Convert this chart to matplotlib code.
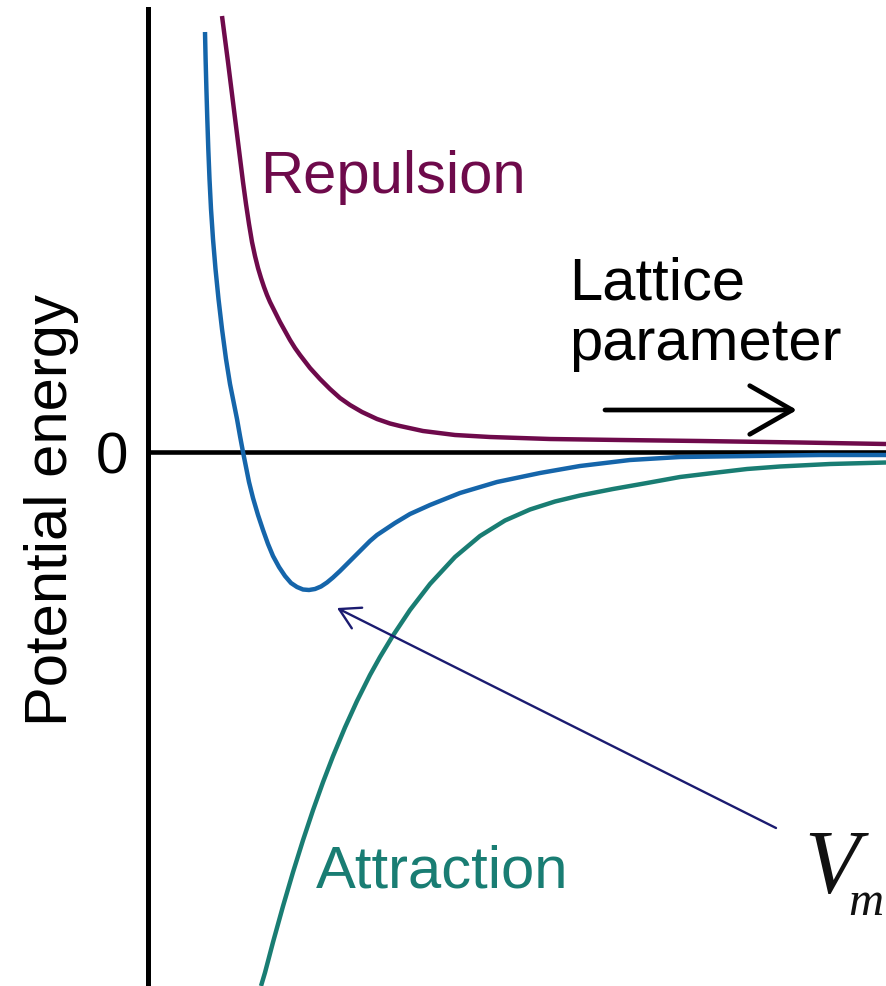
import matplotlib
matplotlib.use("Agg")
import matplotlib.pyplot as plt

plt.rcParams['font.family'] = ['Liberation Sans', 'DejaVu Sans']

# ---- data (lattice parameter, potential energy; arbitrary units) ----
repulsion_x = [0.74, 0.77, 0.80, 0.83, 0.86, 0.89, 0.92, 0.95, 0.98, 1.01, 1.04, 1.07, 1.10,
               1.13, 1.16, 1.19, 1.22, 1.27, 1.32, 1.37, 1.42, 1.47, 1.52, 1.62, 1.72, 1.82,
               1.92, 2.02, 2.14, 2.29, 2.42, 2.52, 2.75, 3.07, 3.42, 4.02, 4.72, 5.52, 6.52, 7.38]
repulsion_y = [4.36, 4.13, 3.90, 3.66, 3.42, 3.18, 2.94, 2.70, 2.48, 2.28, 2.10, 1.96, 1.84,
               1.74, 1.65, 1.57, 1.50, 1.40, 1.30, 1.21, 1.12, 1.04, 0.97, 0.84, 0.73, 0.63,
               0.54, 0.47, 0.40, 0.33, 0.285, 0.26, 0.21, 0.17, 0.15, 0.13, 0.12, 0.11, 0.095, 0.08]

total_x = [0.570, 0.576, 0.584, 0.593, 0.603, 0.615, 0.63, 0.65, 0.675, 0.705, 0.74, 0.78,
           0.82, 0.85, 0.89, 0.92, 0.95, 0.98, 1.01, 1.05, 1.10, 1.15, 1.20, 1.25, 1.31, 1.37,
           1.43, 1.49, 1.55, 1.61, 1.67, 1.73, 1.79, 1.85, 1.92, 1.99, 2.07, 2.15, 2.22, 2.29,
           2.38, 2.47, 2.62, 2.82, 3.12, 3.49, 3.92, 4.32, 4.82, 5.32, 6.02, 6.72, 7.38]
total_y = [4.20, 3.93, 3.63, 3.33, 3.03, 2.73, 2.43, 2.13, 1.83, 1.53, 1.23, 0.93,
           0.68, 0.53, 0.33, 0.16, 0.00, -0.15, -0.30, -0.46, -0.63, -0.78, -0.92, -1.04, -1.15,
           -1.24, -1.31, -1.35, -1.375, -1.38, -1.37, -1.345, -1.305, -1.255, -1.19, -1.12,
           -1.04, -0.96, -0.89, -0.83, -0.77, -0.71, -0.62, -0.53, -0.41, -0.30, -0.21, -0.14,
           -0.08, -0.05, -0.04, -0.03, -0.03]

attraction_x = [1.13, 1.17, 1.25, 1.35, 1.45, 1.55, 1.65, 1.75, 1.85, 1.97, 2.09, 2.22, 2.32,
                2.45, 2.62, 2.82, 3.07, 3.32, 3.57, 3.82, 4.07, 4.32, 4.65, 4.99, 5.32, 5.65,
                5.99, 6.32, 6.82, 7.38]
attraction_y = [-5.34, -5.206, -4.902, -4.542, -4.202, -3.882, -3.582, -3.302, -3.042, -2.754,
                -2.49, -2.23, -2.05, -1.835, -1.58, -1.32, -1.05, -0.84, -0.685, -0.575, -0.495,
                -0.435, -0.37, -0.31, -0.25, -0.21, -0.17, -0.145, -0.12, -0.105]

y_tick_values = [0]
y_tick_labels = ['0']
vm_point = (1.89, -1.56)       # point the V_m arrow indicates (just below the minimum)

# ---- styling ----
C_REP = '#6E0A4B'
C_TOT = '#1565AA'
C_ATT = '#197D73'
C_NAVY = '#1B1B70'

fig = plt.figure(figsize=(8.86, 9.87), dpi=100)
ax = fig.add_axes([0, 0, 1, 1])
ax.set_xlim(-1.48, 7.38)
ax.set_ylim(-5.34, 4.53)

kw = dict(lw=3.2, solid_capstyle='butt', solid_joinstyle='round')
ax.plot(repulsion_x, repulsion_y, color=C_REP, zorder=3, **kw)
ax.plot(attraction_x, attraction_y, color=C_ATT, zorder=3, **kw)
ax.plot(total_x, total_y, color=C_TOT, zorder=4, **kw)

# axes lines
for s in ['top', 'right']:
    ax.spines[s].set_visible(False)
ax.spines['left'].set_position(('data', 0))
ax.spines['bottom'].set_position(('data', 0))
ax.spines['left'].set_bounds(-5.34, 4.43)
ax.spines['bottom'].set_bounds(0, 7.38)
ax.spines['left'].set_linewidth(3.6)
ax.spines['bottom'].set_linewidth(3.3)
ax.spines['left'].set_zorder(2)
ax.spines['bottom'].set_zorder(2)
ax.patch.set_visible(False)

ax.set_xticks([])
ax.set_yticks(y_tick_values)
ax.set_yticklabels(y_tick_labels)
ax.tick_params(axis='y', length=0, pad=14, labelsize=42)

ax.text(52 / 886, 1 - 510 / 987, 'Potential energy', transform=ax.transAxes,
        rotation=90, ha='center', va='center', fontsize=43)

# labels
ax.text(1.12, 2.60, 'Repulsion', color=C_REP, fontsize=43, ha='left', va='baseline')
ax.text(1.68, -4.34, 'Attraction', color=C_ATT, fontsize=43, ha='left', va='baseline')
ax.text(4.21, 1.53, 'Lattice', color='black', fontsize=43, ha='left', va='baseline')
ax.text(4.21, 0.93, 'parameter', color='black', fontsize=43, ha='left', va='baseline')

# lattice parameter arrow
ax.annotate('', xy=(6.49, 0.42), xytext=(4.57, 0.42),
            arrowprops=dict(arrowstyle='->,head_length=30.6,head_width=17.5',
                            mutation_scale=1, lw=3.4, color='black',
                            shrinkA=0, shrinkB=0))

# V_m arrow
ax.annotate('', xy=vm_point, xytext=(6.28, -3.76),
            arrowprops=dict(arrowstyle='->,head_length=14.4,head_width=8.3',
                            mutation_scale=1, lw=1.7, color=C_NAVY,
                            shrinkA=0, shrinkB=0))

ax.text(6.56, -4.40, 'V', fontsize=65, family='Liberation Serif', style='italic',
        color='#111111', ha='left', va='baseline')
ax.text(7.0, -4.62, 'm', fontsize=35, family='Liberation Serif', style='italic',
        color='#111111', ha='left', va='baseline')

fig.savefig('out.png', dpi=100)
